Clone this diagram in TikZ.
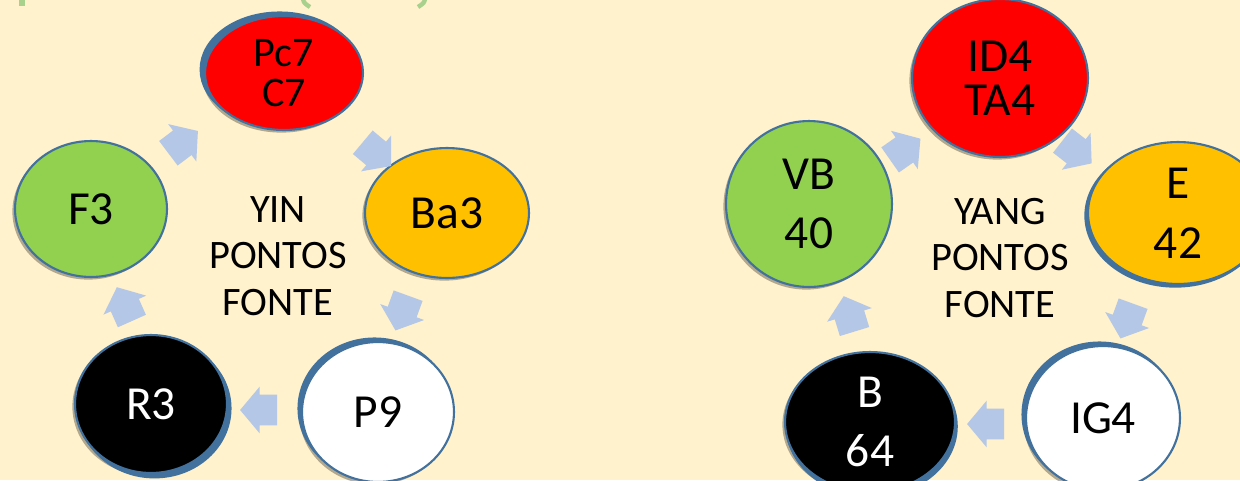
\documentclass[tikz,border=0pt]{standalone}
\usepackage{fontspec}
\setmainfont{Carlito}
\usetikzlibrary{shapes.geometric,shapes.arrows,shadows}
\definecolor{fundo}{HTML}{FFF2CC}
\definecolor{contorno}{HTML}{41719C}
\definecolor{azulseta}{HTML}{B4C7E7}
\definecolor{verde}{HTML}{92D050}
\definecolor{laranja}{HTML}{FFC000}
\definecolor{verdeclaro}{HTML}{A9D18E}
\begin{document}
\begin{tikzpicture}[x=0.02cm,y=-0.02cm,
	ponto/.style 2 args={ellipse,draw=contorno,line width=1.2pt,inner sep=0pt,align=center,
		minimum width=#1*0.04cm,minimum height=#2*0.04cm,font=\fontsize{27}{34}\selectfont,
		drop shadow={shadow xshift=-1.5pt,shadow yshift=-1.5pt,opacity=.3,fill=black}},
	azul/.style 2 args={copy shadow={shadow xshift=#1,shadow yshift=#2,fill=contorno,draw=contorno}},
	bloco/.style={single arrow,fill=azulseta,draw=none,inner xsep=0pt,inner ysep=0.3cm,
		minimum height=0.74cm,minimum width=0.92cm,single arrow head extend=0.16cm,
		single arrow tip angle=100},
	texto/.style={align=center,font=\fontsize{23}{26.6}\selectfont}]
	\fill[fundo] (0,0) rectangle (1240,480);
	\useasboundingbox (0,0) rectangle (1240,480);

	%title, cut off at the top
	\fill[verdeclaro] (19,0) rectangle (25,6);
	\draw[verdeclaro,line width=2.5pt] (303,-1) .. controls (304,3) .. (310,7);
	\draw[verdeclaro,line width=2.5pt] (425,-1) .. controls (424,3) .. (418,7);

	%yin nodes
	\node[ponto={79}{57},azul={-2.5pt}{2pt},fill=red,font=\fontsize{24}{23}\selectfont] (pc7) at (284,73) {Pc7\\C7};
	\node[ponto={82}{65},fill=laranja] (ba3) at (447,213) {Ba3};
	\node[ponto={76}{70},azul={-2pt}{2pt},fill=white] (p9) at (378,412) {P9};
	\node[ponto={76}{69},azul={2pt}{-2.5pt},fill=black,text=white] (r3) at (151,404) {R3};
	\node[ponto={76}{68},fill=verde] (f3) at (91,209) {F3};
	\node[texto] (yin) at (278,256) {YIN\\PONTOS\\FONTE};

	%yin arrows
	\node[bloco,rotate=37] (a1) at (178,146) {};
	\node[bloco,rotate=-40] (a2) at (372,150) {};
	\node[bloco,rotate=-110] (a3) at (404,307) {};
	\node[bloco,rotate=180] (a4) at (265,410) {};
	\node[bloco,rotate=114] (a5) at (127,310) {};

	%yang nodes
	\node[ponto={88}{79},fill=red,font=\fontsize{27}{25}\selectfont] (id4) at (1000,78) {ID4\\TA4};
	\node[ponto={90}{71},azul={-1.5pt}{-1.5pt},fill=laranja] (e) at (1178,213) {E\\42};
	\node[ponto={77}{72},azul={-2pt}{2pt},fill=white] (ig4) at (1103,418) {IG4};
	\node[ponto={85}{70},azul={1pt}{-2.5pt},fill=black,text=white] (b) at (870,422) {B\\64};
	\node[ponto={83}{83},fill=verde] (vb) at (809,204) {VB\\40};
	\node[texto] (yang) at (1000,258) {YANG\\PONTOS\\FONTE};

	%yang arrows
	\node[bloco,rotate=35] (b1) at (900,153) {};
	\node[bloco,rotate=-38] (b2) at (1072,148) {};
	\node[bloco,rotate=-110] (b3) at (1129,315) {};
	\node[bloco,rotate=180] (b4) at (992,424) {};
	\node[bloco,rotate=107] (b5) at (851,320) {};
\end{tikzpicture}
\end{document}
